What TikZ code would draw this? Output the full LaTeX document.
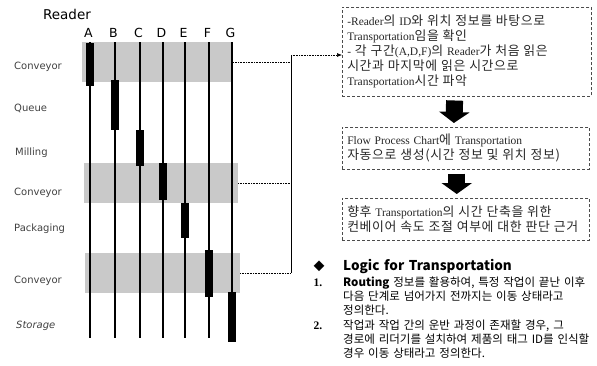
\documentclass[tikz,border=0pt]{standalone}
\usepackage{fontspec}
\setmainfont{Liberation Serif}
\newfontfamily\labelfont{DejaVu Sans}
\newfontfamily\krfont[WordSpace=1.5]{Noto Sans CJK KR}
\newfontfamily\krboxfont[Scale=1.12,LetterSpace=5,WordSpace=2]{Noto Sans CJK KR}
\newcommand{\kr}[1]{{\krboxfont #1}}
\usetikzlibrary{arrows.meta,positioning}

\tikzset{
  band/.style={fill=black!21, inner sep=0pt},
  rowlabel/.style={font=\labelfont\fontsize{10}{12}\selectfont, text=black!75, anchor=west, inner sep=0pt},
  infobox/.style={draw=black!70, densely dashed, line width=0.5pt, anchor=north west, align=left,
    inner xsep=5pt, inner ysep=2pt, text=black!85, font=\fontsize{11.5}{15}\selectfont},
  bigarrow/.style={line width=17pt, -{Triangle[length=11pt,width=30pt]}, shorten <=4pt, shorten >=4pt},
  link/.style={line width=0.6pt, densely dotted},
  listtext/.style={anchor=north west, align=left, inner sep=0pt, font=\krfont\fontsize{11.5}{14}\selectfont},
  num/.style={inner sep=0pt, font=\bfseries\fontsize{11.5}{14}\selectfont},
}

\begin{document}
\begin{tikzpicture}[x=1pt,y=-1pt]
\useasboundingbox (0,0) rectangle (597,365);

\node[font=\labelfont\fontsize{13.5}{15}\selectfont] (reader) at (67,14) {Reader};

% conveyor sections
\node[band, minimum width=151pt, minimum height=40pt] (conv1) at (157.5,62) {};
\node[band, minimum width=154pt, minimum height=40pt] (conv2) at (161,183) {};
\node[band, minimum width=155pt, minimum height=40pt] (conv3) at (162.5,273) {};

\foreach \l/\x in {A/90,B/115,C/140,D/163,E/185,F/209,G/232}{
  \node[font=\labelfont\fontsize{12.5}{14}\selectfont] (\l) at (\x-1.5,33) {\l};
  \draw[line width=1.1pt] (\x,42) -- (\x,338);
}
\foreach \x/\a/\b in {90/43/86,115/80/130,140/130/166,163/163/200,185/203/238,209/250/297,232/292/342}
  \fill (\x-4,\a) rectangle (\x+4,\b);

\node[rowlabel] (lconv1) at (14,67) {Conveyor};
\node[rowlabel] (lqueue) at (14,108) {Queue};
\node[rowlabel] (lmill) at (15,153) {Milling};
\node[rowlabel] (lconv2) at (14,193) {Conveyor};
\node[rowlabel] (lpack) at (14,229) {Packaging};
\node[rowlabel] (lconv3) at (14,281) {Conveyor};
\node[rowlabel, font=\labelfont\itshape\fontsize{10}{12}\selectfont] (lstore) at (16,326) {Storage};

\node[infobox, text width=239pt, minimum height=89pt] (box1) at (342,7)
  {-Reader\kr{의} ID\kr{와 위치 정보를 바탕으로}\\
   Transportation\kr{임을 확인}\\
   - \kr{각 구간}(A,D,F)\kr{의} Reader\kr{가 처음 읽은}\\
   \kr{시간과 마지막에 읽은 시간으로}\\
   Transportation\kr{시간 파악}};
\node[infobox, text width=237pt, minimum height=42pt] (box2) at (342,127)
  {Flow Process Chart\kr{에} Transportation\\
   \kr{자동으로 생성(시간 정보 및 위치 정보)}};
\node[infobox, text width=237pt, minimum height=42pt] (box3) at (342,198)
  {\kr{향후} Transportation\kr{의 시간 단축을 위한}\\
   \kr{컨베이어 속도 조절 여부에 대한 판단 근거}};

\draw[bigarrow] ([xshift=-12pt]box1.south) -- ([xshift=-12pt]box2.north);
\draw[bigarrow] ([xshift=-9pt]box2.south) -- ([xshift=-9pt]box3.north);

\coordinate (bus) at (291,55);
\coordinate (busend) at (291,273);
\draw[link] (conv1.east) -- (conv1.east -| bus);
\draw[link] (conv2.east) -- (conv2.east -| bus);
\draw[link] (conv3.east) -- (busend);
\draw[line width=0.7pt] (bus) -- (busend);
\draw[link, -{Latex[length=5pt,width=4pt]}] (bus) -- (bus -| box1.west);

\node[inner sep=0pt, font=\krfont\fontsize{11}{14}\selectfont] (dia) at (319,266) {◆};
\node[anchor=west, inner sep=0pt, font=\krfont\bfseries\fontsize{13.5}{16}\selectfont] (logic) at (343,266) {Logic for Transportation};
\node[num] (n1) at (318,283) {1.};
\node[listtext] (item1) at (343,277)
  {{\bfseries Routing} 정보를 활용하여, 특정 작업이 끝난 이후\\
   다음 단계로 넘어가지 전까지는 이동 상태라고\\
   정의한다.};
\node[num] (n2) at (318,326) {2.};
\node[listtext] (item2) at (343,320)
  {작업과 작업 간의 운반 과정이 존재할 경우, 그\\
   경로에 리더기를 설치하여 제품의 태그 ID를 인식할\\
   경우 이동 상태라고 정의한다.};
\end{tikzpicture}
\end{document}
